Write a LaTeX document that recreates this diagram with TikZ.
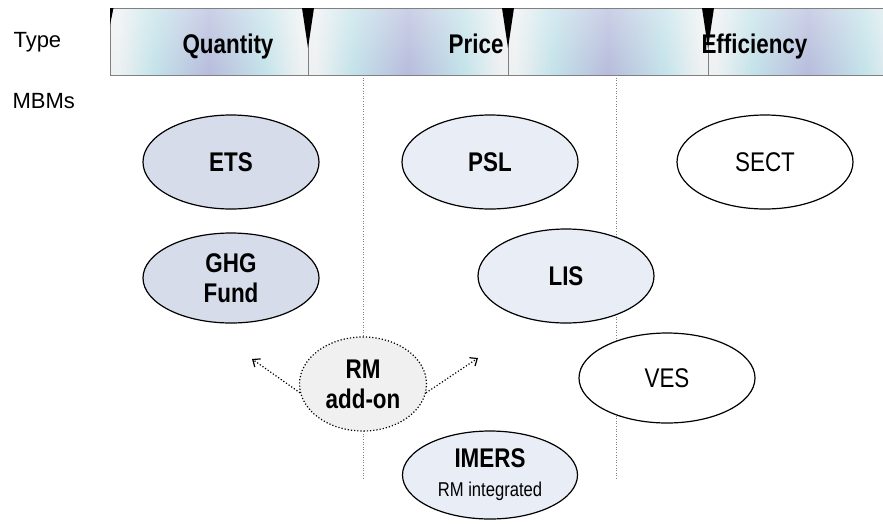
\documentclass[tikz,border=0pt]{standalone}
\usepackage{fontspec}
\setmainfont{Liberation Sans}
\newfontfamily\narrowfont{Liberation Sans}[FakeStretch=0.83]
\usetikzlibrary{shapes.geometric,arrows.meta,fadings}
\definecolor{bargrey}{HTML}{EEF1F2}
\definecolor{barcyan}{HTML}{C4E3EA}
\definecolor{barlav}{HTML}{B7BCDC}
\definecolor{darkfill}{HTML}{D6DCEA}
\definecolor{lightfill}{HTML}{E9EEF6}
\definecolor{addonfill}{HTML}{F0F0F0}
\pgfdeclarehorizontalshading{barshade}{100bp}{color(0bp)=(bargrey); color(27bp)=(bargrey);
  color(36bp)=(barcyan); color(50bp)=(barlav); color(64bp)=(barcyan); color(73bp)=(bargrey);
  color(100bp)=(bargrey)}
\tikzfading[name=barfade,top color=transparent!70,bottom color=transparent!100]

\begin{document}
\begin{tikzpicture}[x=1pt,y=-1pt,
    sidelabel/.style={anchor=base west,font=\fontsize{22}{26}\selectfont},
    typelabel/.style={anchor=base,font=\narrowfont\fontsize{27}{30}\selectfont\bfseries},
    mbm/.style={ellipse,draw,line width=1.2pt,inner sep=0pt,align=center,
      minimum width=176pt,minimum height=94pt,font=\narrowfont\fontsize{27}{30}\selectfont},
    darkmbm/.style={mbm,fill=darkfill,font=\narrowfont\fontsize{27}{30}\selectfont\bfseries},
    lightmbm/.style={mbm,fill=lightfill,font=\narrowfont\fontsize{27}{30}\selectfont\bfseries},
    whitembm/.style={mbm,fill=white},
    addon/.style={mbm,fill=addonfill,dotted,minimum width=127pt,
      font=\narrowfont\fontsize{27}{30}\selectfont\bfseries},
    spread/.style={dotted,line width=1.2pt,-{Straight Barb[length=6pt,width=10pt]}},
    colline/.style={draw=gray,dotted,line width=0.6pt}]
              \useasboundingbox (0,0) rectangle (883,523);
              %\draw[help lines,step=50](0,0) grid(883,523);
              % type bar
              \foreach \xa/\xb in {110/308,308/508,508/708,708/908}
                \path[shading=barshade] (\xa,8) rectangle (\xb,75);
              \path[fill=white,path fading=barfade] (110,8) rectangle (908,75);
              \path[draw=gray,line width=1pt] (908,8)--(110,8)--(110,75)--(908,75);
              \foreach \xd in {308,508,708}
                \path[draw=gray,line width=0.6pt] (\xd,8)--(\xd,75);
              \path[fill=black] (110,8)--(113.5,8)--(110,25)--cycle;
              \node[sidelabel] (type) at (10,47) {Type};
              \node[sidelabel] (mbms) at (9,108) {MBMs};
              \node[typelabel] (quantity) at (228,53) {Quantity};
              \node[typelabel,anchor=base east] (price) at (507,53) {Price};
              \node[typelabel,anchor=base west] (efficiency) at (698,53) {Efficiency};
              \foreach \xd in {308,508,708}
                \path[fill=black] (\xd-6,8)--(\xd+6,8)--(\xd,48)--cycle;
              % column borders
              \path[colline] (363,75)--(363,480);
              \path[colline] (616,75)--(616,480);
              % instruments
              \node[darkmbm] (ets) at (231,162) {ETS};
              \node[darkmbm,minimum height=90pt] (ghg) at (231,278) {GHG\\Fund};
              \node[lightmbm] (psl) at (490,162) {PSL};
              \node[lightmbm] (lis) at (566,276) {LIS};
              \node[whitembm] (sect) at (765,162) {SECT};
              \node[whitembm,minimum height=90pt] (ves) at (667,378) {VES};
              \node[lightmbm,minimum width=175pt,minimum height=88pt] (imers) at (490,475)
                {IMERS\\[-1pt]{\fontsize{20}{22}\selectfont\mdseries RM integrated}};
              \node[addon] (rm) at (363,384) {RM\\add-on};
              \coordinate (leftend) at (252,359);
              \coordinate (rightend) at (478,358);
              \draw[spread] (rm.188)--(leftend);
              \draw[spread] (rm.352)--(rightend);
            \end{tikzpicture}
\end{document}
